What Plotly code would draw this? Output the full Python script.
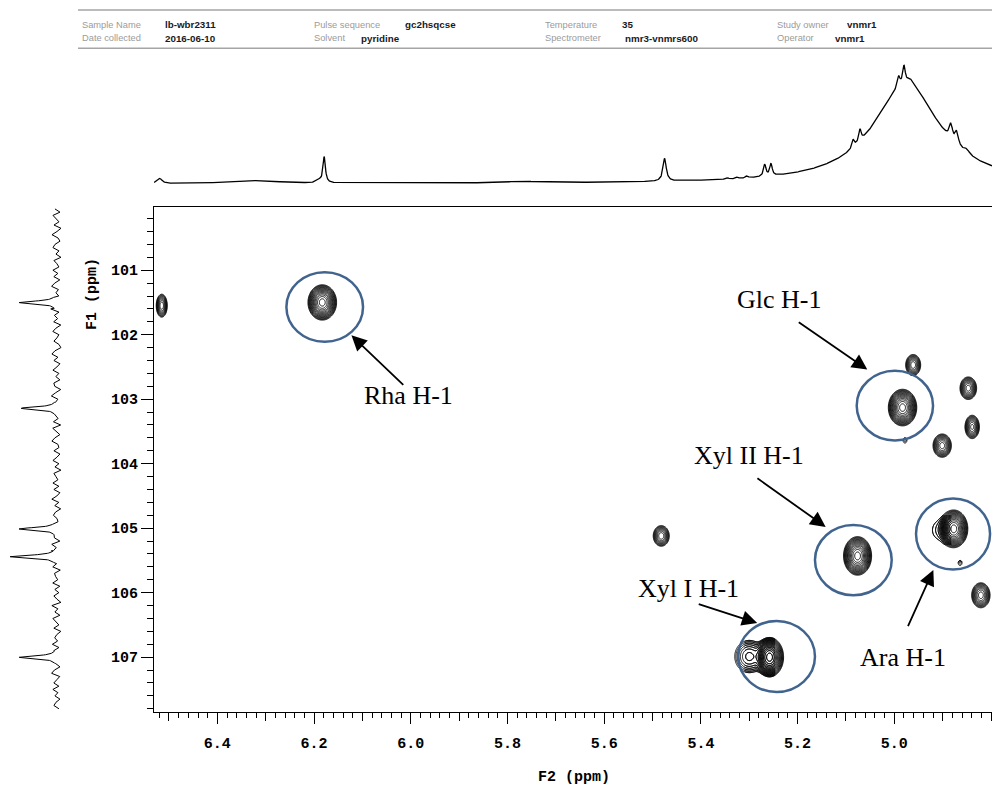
import numpy as np
import plotly.graph_objects as go

W, H = 992, 787

# ---------------------------------------------------------------------------
# Acquisition header
header_rows = [
    [("Sample Name", "lb-wbr2311"), ("Pulse sequence", "gc2hsqcse"),
     ("Temperature", "35"), ("Study owner", "vnmr1")],
    [("Date collected", "2016-06-10"), ("Solvent", "pyridine"),
     ("Spectrometer", "nmr3-vnmrs600"), ("Operator", "vnmr1")],
]

# ---------------------------------------------------------------------------
# HSQC cross peaks: 1H shift (F2), 13C shift (F1), relative height,
# half-widths of the lowest contour (ppm)
peak_f2 = [6.515, 6.183, 4.983, 4.961, 4.847, 4.839, 4.901, 4.877, 4.907,
           4.821, 5.076, 5.258, 5.300, 5.482, 4.978, 4.864]
peak_f1 = [101.55, 101.50, 103.13, 102.47, 102.83, 103.43, 103.72, 105.01,
           105.03, 106.04, 105.43, 107.00, 106.99, 105.12, 103.64, 105.54]
peak_amp = [12, 60, 60, 12, 15, 14, 15, 60, 1.4, 15, 60, 60, 6, 12, 1.5, 1.5]
peak_w2 = [0.0114, 0.0296, 0.0294, 0.0155, 0.0172, 0.0149, 0.0190, 0.0290,
           0.0140, 0.0190, 0.0290, 0.0290, 0.0300, 0.0166, 0.0040, 0.0040]
peak_w1 = [0.178, 0.274, 0.284, 0.163, 0.175, 0.181, 0.181, 0.291, 0.130,
           0.194, 0.299, 0.305, 0.250, 0.160, 0.040, 0.040]

# Assigned anomeric signals: label, circle extent, label and arrow positions
assign_label = ["Rha H-1", "Glc H-1", "Xyl II H-1", "Xyl I H-1", "Ara H-1"]
circle_f2 = [(6.2572, 6.0987), (5.0778, 4.9199), (5.1641, 5.0054),
             (5.3228, 5.1641), (4.9551, 4.8020)]
circle_f1 = [(101.03, 102.11), (102.56, 103.64), (104.95, 106.04),
             (106.44, 107.54), (104.54, 105.64)]
label_pos = [(6.0048, 102.95), (5.2375, 101.45), (5.3006, 103.87),
             (5.4254, 105.94), (4.9830, 107.00)]
arrow_tail = [(6.0124, 102.80), (5.2007, 101.79), (5.2862, 104.21),
              (5.4076, 106.17), (4.9731, 106.54)]
arrow_head = [(6.1227, 102.01), (5.0559, 102.54), (5.1420, 104.98),
              (5.2835, 106.47), (4.9193, 105.65)]

# 1D 1H spectrum (F2 projection): position, height, half-width at half height
h1_ppm = [6.519, 6.320, 6.190, 6.179, 5.770, 5.475, 5.345, 5.325, 5.305,
          5.268, 5.255, 5.085, 5.071, 4.991, 4.980, 4.965, 4.883, 4.871,
          4.850, 4.975]
h1_height = [5, 3, 2.5, 26, 1.5, 23, 1.2, 1.5, 2, 12, 12, 8, 12, 10, 17,
             5, 15, 13, 4, 100]
h1_hwhm = [0.006, 0.06, 0.006, 0.003, 0.05, 0.004, 0.003, 0.003, 0.003,
           0.003, 0.003, 0.003, 0.003, 0.003, 0.003, 0.010, 0.004, 0.004,
           0.006, 0.083]

# 1D 13C trace (F1): peak positions, heights, half-widths
c13_ppm = [101.50, 103.14, 105.01, 105.44, 107.00]
c13_height = [38, 36, 38, 47, 38]
c13_hwhm = [0.025, 0.025, 0.025, 0.025, 0.025]
# baseline noise of the 13C trace, sampled every 0.05 ppm from 100.05 ppm
c13_noise = [
    2, -3, 4, 1, -2, 3, -4, 0, 5, -1, -3, 2, 4, -2, 1, -4, 3, 0, -2, 4,
    -1, 3, -3, 2, 5, -2, 0, -4, 3, 1, -2, 4, -3, 2, -1, 3, -4, 1, 4, -2,
    0, 3, -2, -4, 2, 5, -1, 3, -3, 0, 4, -2, 1, -3, 3, 2, -4, 1, 5, -2,
    -1, 4, -3, 2, 0, -2, 3, -4, 4, 1, -3, 2, 5, -1, -2, 3, -3, 0, 4, -2,
    2, -4, 3, 1, -1, 4, -2, 3, -3, 0, 5, -2, 2, -4, 1, 3, -1, -3, 4, 0,
    -2, 3, 1, -4, 4, -1, 2, -3, 5, 0, -2, 3, -4, 2, 1, -1, 4, -3, 2, -2,
    3, 0, -4, 5, -1, 2, -3, 4, 1, -2, 3, -4, 0, 2, -1, 4,
    -3, 1, 4, -2, 3, -1, -4, 2, 5, -3, 0, 3, -2, 4, -1, 2, -3, 1, 3, -2,
]

# Axis ticks
f2_ticks = [6.4, 6.2, 6.0, 5.8, 5.6, 5.4, 5.2, 5.0]
f1_ticks = [101, 102, 103, 104, 105, 106, 107]
F2_RANGE = [6.531, 4.798]
F1_RANGE = [107.85, 100.02]

# ---------------------------------------------------------------------------
def px_x(p):
    return p / W


def px_y(p):
    return 1 - p / H


def lorentz(x, c, h, hw):
    return h * hw ** 2 / (hw ** 2 + (x - c) ** 2)


sig2 = [w / np.sqrt(2 * np.log(a)) for w, a in zip(peak_w2, peak_amp)]
sig1 = [w / np.sqrt(2 * np.log(a)) for w, a in zip(peak_w1, peak_amp)]


def hsqc_intensity(F2, F1):
    tot = np.zeros_like(F2)
    for c2, c1, a, s2, s1 in zip(peak_f2, peak_f1, peak_amp, sig2, sig1):
        tot += a * np.exp(-0.5 * ((F2 - c2) / s2) ** 2 - 0.5 * ((F1 - c1) / s1) ** 2)
    return tot


fig = go.Figure()

# contour plot, one local grid per cross peak
for c2, c1, w2, w1, a in zip(peak_f2, peak_f1, peak_w2, peak_w1, peak_amp):
    gx = np.linspace(c2 - 1.8 * w2, c2 + 1.8 * w2, 81)
    gy = np.linspace(c1 - 1.8 * w1, c1 + 1.8 * w1, 81)
    GX, GY = np.meshgrid(gx, gy)
    z = np.log(np.maximum(hsqc_intensity(GX, GY), 1e-4))
    fig.add_trace(go.Contour(
        x=gx, y=gy, z=z, xaxis="x", yaxis="y",
        contours=dict(start=0.0, end=4.2, size=0.28, coloring="lines"),
        colorscale=[[0, "black"], [1, "black"]],
        line=dict(width=0.9), showscale=False, hoverinfo="skip",
    ))

# 1H projection on top
f2_grid = np.arange(F2_RANGE[1], F2_RANGE[0] + 1e-9, 0.0008)
h1_trace = np.zeros_like(f2_grid)
for c, h, hw in zip(h1_ppm, h1_height, h1_hwhm):
    h1_trace += lorentz(f2_grid, c, h, hw)
fig.add_trace(go.Scatter(x=f2_grid, y=h1_trace, xaxis="x2", yaxis="y2",
                         mode="lines", line=dict(color="black", width=1.3),
                         hoverinfo="skip"))

# 13C trace on the left: noisy baseline with narrow lines
f1_coarse = np.round(100.05 + 0.05 * np.arange(len(c13_noise)), 3)
pts = []
for f, n in zip(f1_coarse, c13_noise):
    if min(abs(f - c) for c in c13_ppm) > 0.09:
        pts.append((f, float(n)))
for c, h, hw in zip(c13_ppm, c13_height, c13_hwhm):
    for f in np.arange(c - 0.09, c + 0.0901, 0.004):
        pts.append((f, 0.0))
pts.sort()
f1_pts = np.array([p[0] for p in pts])
c13_trace = np.array([p[1] for p in pts])
for c, h, hw in zip(c13_ppm, c13_height, c13_hwhm):
    c13_trace = c13_trace + lorentz(f1_pts, c, h, hw)
fig.add_trace(go.Scatter(x=c13_trace, y=f1_pts, xaxis="x3", yaxis="y3",
                         mode="lines", line=dict(color="black", width=1),
                         hoverinfo="skip"))

# ---------------------------------------------------------------------------
tick_font = dict(family="Liberation Mono", size=15, color="black", weight="bold")
main_xdom = [px_x(154), 1.0]
main_ydom = [px_y(712), px_y(207)]

fig.update_layout(
    width=W, height=H, margin=dict(l=0, r=0, t=0, b=0),
    paper_bgcolor="white", plot_bgcolor="white", showlegend=False,
    xaxis=dict(domain=main_xdom, range=F2_RANGE, anchor="y",
               showline=True, linecolor="black", linewidth=1, mirror=True,
               ticks="outside", tickvals=f2_ticks, ticklen=11, tickwidth=1,
               tickcolor="black", tickformat=".1f", tickfont=tick_font,
               ticklabelstandoff=6,
               minor=dict(dtick=0.02, tick0=0, ticks="outside", ticklen=5,
                          tickwidth=1, tickcolor="black", showgrid=False),
               showgrid=False, zeroline=False),
    xaxis4=dict(domain=main_xdom, range=F2_RANGE, anchor="y", overlaying="x",
                ticks="outside", dtick=0.1, tick0=0, ticklen=8, tickwidth=1,
                tickcolor="black", showticklabels=False, showline=False,
                showgrid=False, zeroline=False),
    yaxis=dict(domain=main_ydom, range=F1_RANGE, anchor="x",
               showline=True, linecolor="black", linewidth=1,
               ticks="outside", tickvals=f1_ticks, ticklen=12, tickwidth=1,
               tickcolor="black", tickfont=tick_font,
               minor=dict(dtick=0.2, tick0=0, ticks="outside", ticklen=6,
                          tickwidth=1, tickcolor="black", showgrid=False),
               showgrid=False, zeroline=False),
    xaxis2=dict(domain=main_xdom, matches="x", anchor="y2", visible=False),
    yaxis2=dict(domain=[px_y(195), px_y(55)], range=[-11, 129], anchor="x2",
                visible=False),
    xaxis3=dict(domain=[0, px_x(150)], range=[57, -93], anchor="y3",
                visible=False),
    yaxis3=dict(domain=main_ydom, matches="y", anchor="x3", visible=False),
)
# empty trace so the medium-tick axis is drawn
fig.add_trace(go.Scatter(x=[None], y=[None], xaxis="x4", yaxis="y",
                         hoverinfo="skip"))

shapes = []
# header rules
for yy in (10, 48.3):
    shapes.append(dict(type="line", xref="paper", yref="paper",
                       x0=px_x(78), x1=1, y0=px_y(yy), y1=px_y(yy),
                       line=dict(color="#a5a5a5", width=1.5)))
# circles around assigned signals
for (x0, x1), (y0, y1) in zip(circle_f2, circle_f1):
    shapes.append(dict(type="circle", xref="x", yref="y",
                       x0=x0, x1=x1, y0=y0, y1=y1,
                       line=dict(color="#41648F", width=2.5), layer="above"))
fig.update_layout(shapes=shapes)

ann = []
# header text
col_label_x = [80, 311.7, 543.3, 775]
col_value_x = [[163.3, 403.3, 620, 845], [163.3, 359.3, 623.3, 833.3]]
for r, (row, yy) in enumerate(zip(header_rows, (25, 38.3))):
    for c, (lab, val) in enumerate(row):
        ann.append(dict(xref="paper", yref="paper", x=px_x(col_label_x[c]),
                        y=px_y(yy), text=lab, showarrow=False,
                        xanchor="left", yanchor="middle",
                        font=dict(family="Liberation Sans", size=9.3,
                                  color="#9b9b9b")))
        ann.append(dict(xref="paper", yref="paper", x=px_x(col_value_x[r][c]),
                        y=px_y(yy), text=val, showarrow=False,
                        xanchor="left", yanchor="middle",
                        font=dict(family="Liberation Sans", size=9.8,
                                  color="#1a1a1a", weight="bold")))
# axis titles
ann.append(dict(xref="paper", yref="paper", x=px_x(574), y=px_y(777),
                text="F2 (ppm)", showarrow=False, xanchor="center",
                yanchor="middle", font=tick_font))
ann.append(dict(xref="paper", yref="paper", x=px_x(92), y=px_y(294),
                text="F1 (ppm)", showarrow=False, xanchor="center",
                yanchor="middle", textangle=-90, font=tick_font))
# assignment labels and arrows
for lab, (lx, ly), (tx, ty), (hx, hy) in zip(assign_label, label_pos,
                                             arrow_tail, arrow_head):
    ann.append(dict(xref="x", yref="y", x=lx, y=ly, text=lab,
                    showarrow=False, xanchor="center", yanchor="middle",
                    font=dict(family="Liberation Serif", size=26,
                              color="black")))
    ann.append(dict(xref="x", yref="y", x=hx, y=hy, ax=tx, ay=ty,
                    axref="x", ayref="y", text="", showarrow=True,
                    arrowhead=2, arrowsize=1.7, arrowwidth=1.8,
                    arrowcolor="black", standoff=0, startstandoff=0))
fig.update_layout(annotations=ann)

fig.write_html("out.html")
